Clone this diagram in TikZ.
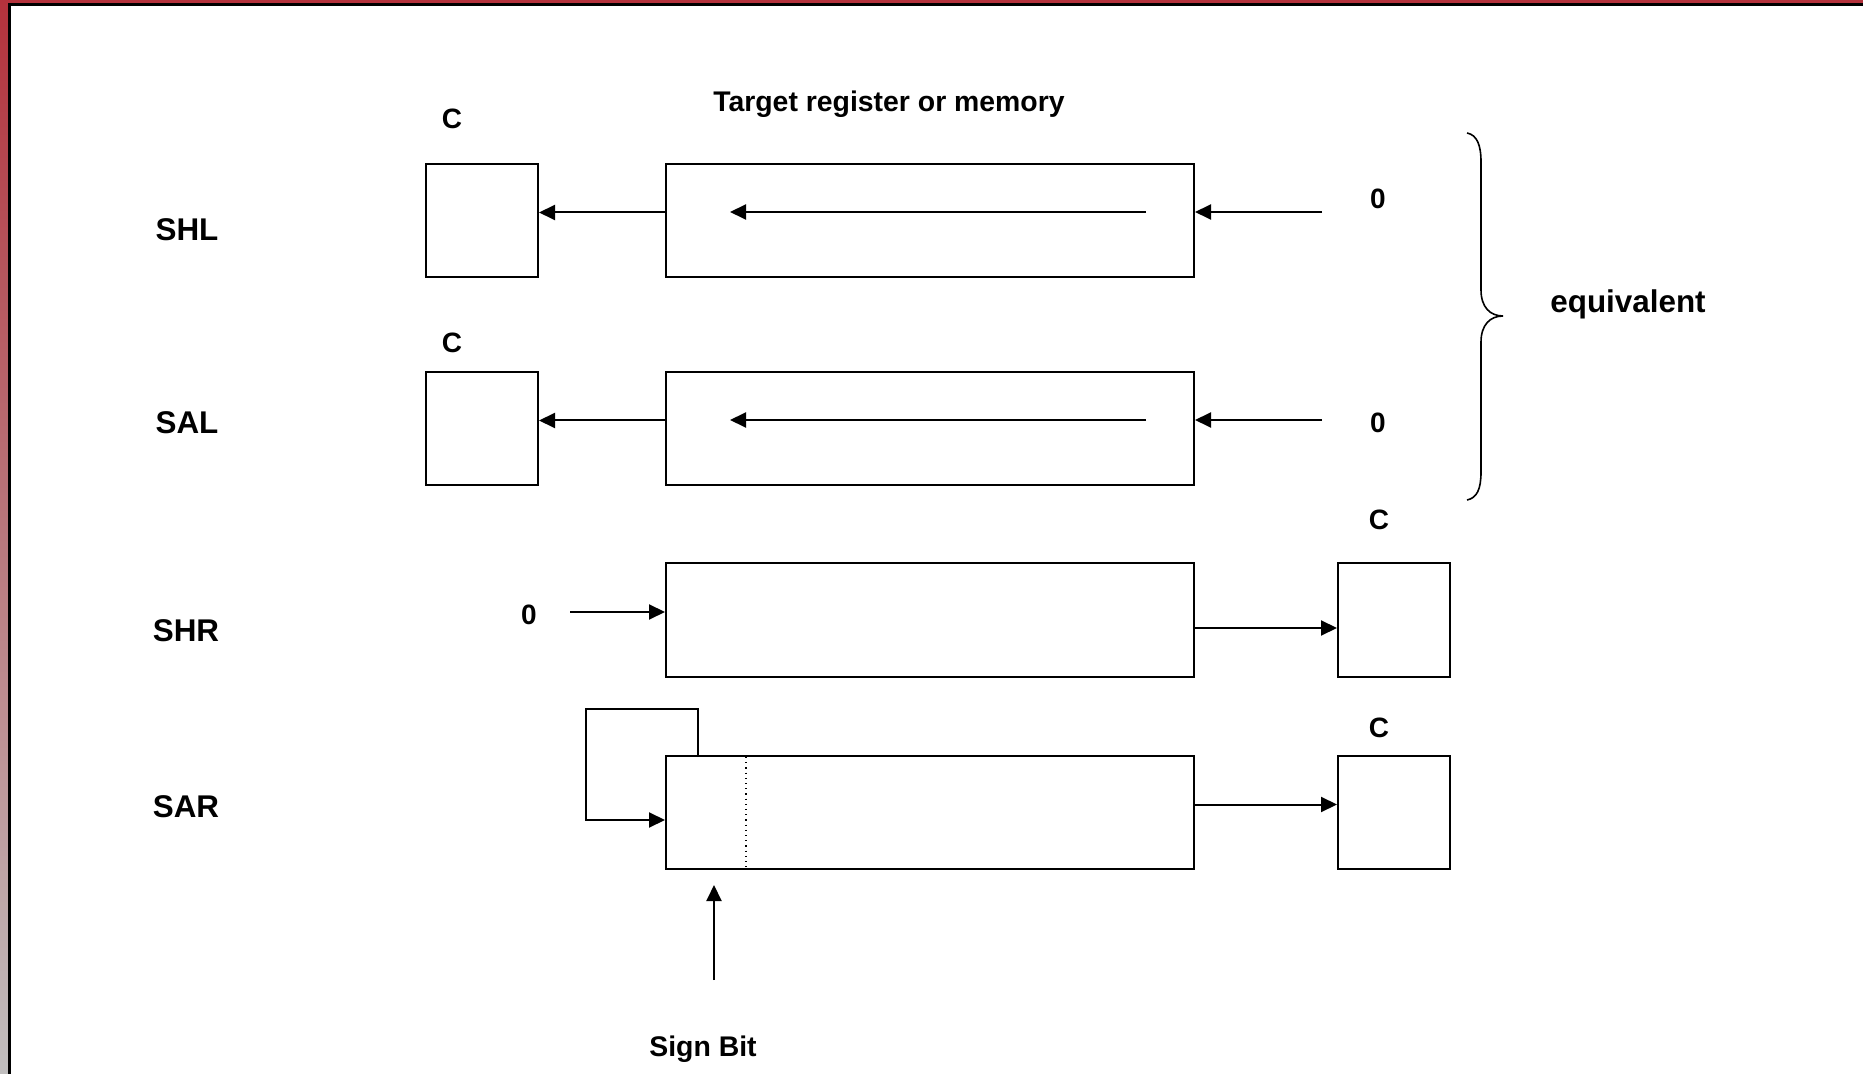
\documentclass[tikz,border=0pt]{standalone}
\usepackage{fontspec}
\setmainfont{Liberation Sans}
\usetikzlibrary{arrows.meta,calc}

\definecolor{framered}{RGB}{180,50,60}
\definecolor{framegrey}{RGB}{192,190,190}

\begin{document}
\begin{tikzpicture}[x=0.5pt,y=-0.5pt,
  line width=1pt,
  cbox/.style={draw,minimum width=56pt,minimum height=56.5pt,inner sep=0pt},
  regbox/.style={draw,minimum width=264pt,minimum height=56.5pt,inner sep=0pt},
  arr/.style={-{Triangle[length=8pt,width=7.5pt]}},
  lbl/.style={font=\bfseries\fontsize{15.7pt}{18pt}\selectfont,inner sep=0pt},
  small/.style={font=\bfseries\fontsize{14pt}{16pt}\selectfont,inner sep=0pt},
  mid/.style={font=\bfseries\fontsize{14.2pt}{16pt}\selectfont,inner sep=0pt}]

% page and frame
\useasboundingbox (0,0) rectangle (1863,1074);
\fill[white] (0,0) rectangle (1863,1074);
\shade[top color=framered,bottom color=framegrey] (0,0) rectangle (8,1074);
\fill[framered] (0,0) rectangle (1863,3);
\fill[black] (8,3) rectangle (1863,6);
\fill[black] (8,3) rectangle (11,1074);

% row labels
\node[lbl] (lshl) at (187,230) {SHL};
\node[lbl] (lsal) at (187,423) {SAL};
\node[lbl] (lshr) at (186,631) {SHR};
\node[lbl] (lsar) at (186,807) {SAR};

\node[mid] (title) at (889,104) {Target register or memory};

% SHL
\node[cbox] (c1) at (482,220.5) {};
\node[regbox] (r1) at (930,220.5) {};
\node[small] (c1l) at (452,119) {C};
\node[small] (z1) at (1378,199) {0};
\coordinate (i1a) at (1146,212);
\coordinate (i1b) at (730,212);
\coordinate (z1s) at (1322,212);
\draw[arr] ([yshift=4pt]r1.west) -- ([yshift=4pt]c1.east);
\draw[arr] (i1a) -- (i1b);
\draw[arr] (z1s) -- (z1s -| r1.east);

% SAL
\node[cbox] (c2) at (482,428.5) {};
\node[regbox] (r2) at (930,428.5) {};
\node[small] (c2l) at (452,343) {C};
\node[small] (z2) at (1378,423) {0};
\coordinate (i2a) at (1146,420);
\coordinate (i2b) at (730,420);
\coordinate (z2s) at (1322,420);
\draw[arr] ([yshift=4pt]r2.west) -- ([yshift=4pt]c2.east);
\draw[arr] (i2a) -- (i2b);
\draw[arr] (z2s) -- (z2s -| r2.east);

% brace and its label
\draw[line width=0.8pt] (1467,133) .. controls (1477,135) and (1481,145) .. (1481,162)
  -- (1481,290) .. controls (1481,307) and (1490,316) .. (1503,316)
  .. controls (1490,316) and (1481,325) .. (1481,342)
  -- (1481,472) .. controls (1481,489) and (1477,498) .. (1467,500);
\node[lbl] (eq) at (1628,304) {equivalent};

% SHR
\node[regbox] (r3) at (930,620) {};
\node[cbox] (c3) at (1394,620) {};
\node[small] (c3l) at (1379,520) {C};
\node[small] (z3) at (529,615) {0};
\coordinate (z3s) at (570,612);
\draw[arr] (z3s) -- (z3s -| r3.west);
\draw[arr] ([yshift=-4pt]r3.east) -- ([yshift=-4pt]c3.west);

% SAR
\node[regbox] (r4) at (930,812.5) {};
\node[cbox] (c4) at (1394,812.5) {};
\node[small] (c4l) at (1379,728) {C};
\draw[arr] ([yshift=4pt]r4.east) -- ([yshift=4pt]c4.west);
\draw[line width=0.6pt,dotted] (746,757) -- (746,868);
\coordinate (lp1) at (698,757);
\coordinate (lp2) at (698,709);
\coordinate (lp3) at (586,709);
\coordinate (lp4) at (586,820);
\draw[arr] (lp1) -- (lp2) -- (lp3) -- (lp4) -- (lp4 -| r4.west);

% sign bit
\node[mid] (sign) at (703,1049) {Sign Bit};
\coordinate (sb1) at (714,980);
\coordinate (sb2) at (714,885);
\draw[arr] (sb1) -- (sb2);
\end{tikzpicture}
\end{document}
